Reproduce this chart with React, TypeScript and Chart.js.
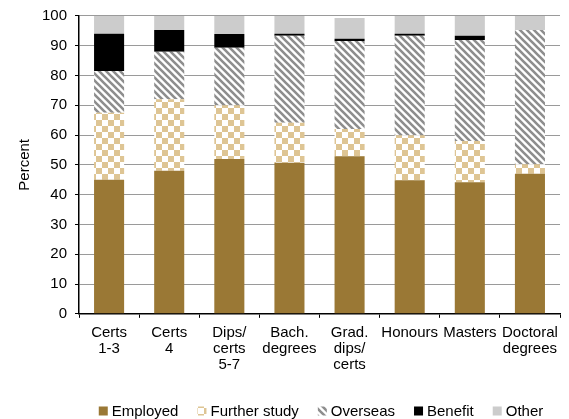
import React, { useEffect, useRef } from "react";
import { Chart, registerables } from "chart.js";

Chart.register(...registerables);

const categories: string[][] = [
  ["Certs", "1-3"],
  ["Certs", "4"],
  ["Dips/", "certs", "5-7"],
  ["Bach.", "degrees"],
  ["Grad.", "dips/", "certs"],
  ["Honours"],
  ["Masters"],
  ["Doctoral", "degrees"],
];

const employed = [45, 48, 52, 50.7, 52.9, 44.8, 44.2, 47];
const furtherStudy = [22.5, 24, 18, 13.4, 9.1, 15.1, 13.8, 3.2];
const overseas = [14, 16, 19.3, 29.2, 29.6, 33.4, 33.9, 45.1];
const benefit = [12.5, 7.3, 4.6, 0.7, 0.7, 0.7, 1.4, 0];
const other = [6, 4.7, 6.1, 6, 7, 6, 6.7, 4.7];

const yTicks = [0, 10, 20, 30, 40, 50, 60, 70, 80, 90, 100];

const FONT_FAMILY = "'Liberation Sans', Arial, sans-serif";

function makeChecker(): CanvasPattern | string {
  const c = document.createElement("canvas");
  c.width = 12;
  c.height = 12;
  const g = c.getContext("2d");
  if (!g) return "#dcc494";
  g.fillStyle = "#ffffff";
  g.fillRect(0, 0, 12, 12);
  g.fillStyle = "#dec594";
  g.fillRect(0, 0, 6, 6);
  g.fillRect(6, 6, 6, 6);
  const p = g.createPattern(c, "repeat");
  return p || "#dcc494";
}

function makeStripes(): CanvasPattern | string {
  const s = 7;
  const c = document.createElement("canvas");
  c.width = s;
  c.height = s;
  const g = c.getContext("2d");
  if (!g) return "#999";
  g.fillStyle = "#ffffff";
  g.fillRect(0, 0, s, s);
  g.strokeStyle = "#8e8e8e";
  g.lineWidth = 2.6;
  g.beginPath();
  g.moveTo(-2, -2);
  g.lineTo(s + 2, s + 2);
  g.moveTo(-2 - s, -2);
  g.lineTo(2, s + 2);
  g.moveTo(s - 2, -2);
  g.lineTo(2 * s + 2, s + 2);
  g.stroke();
  const p = g.createPattern(c, "repeat");
  return p || "#999";
}

const bottomLegend = {
  id: "bottomLegend",
  afterDraw(chart: any) {
    const ctx = chart.ctx as CanvasRenderingContext2D;
    const items = chart.data.datasets.map((d: any) => ({ label: d.label, fill: d.backgroundColor }));
    ctx.save();
    ctx.font = `15px ${FONT_FAMILY}`;
    const box = 9;
    const gapText = 4;
    const gapItem = 19;
    const widths = items.map((it: any) => box + gapText + ctx.measureText(it.label).width);
    const total = widths.reduce((a: number, b: number) => a + b, 0) + gapItem * (items.length - 1);
    const cx = 321;
    const cy = 411;
    let x = cx - total / 2;
    items.forEach((it: any, i: number) => {
      ctx.fillStyle = it.fill;
      ctx.fillRect(x, cy - box / 2, box, box);
      ctx.fillStyle = "#000";
      ctx.textBaseline = "middle";
      ctx.textAlign = "left";
      ctx.fillText(it.label, x + box + gapText, cy + 1);
      x += widths[i] + gapItem;
    });
    ctx.restore();
  },
};

export default function App() {
  const ref = useRef<HTMLCanvasElement | null>(null);
  useEffect(() => {
    if (!ref.current) return;
    const checker = makeChecker();
    const stripes = makeStripes();
    const font = { family: FONT_FAMILY, size: 15 };
    const yfont = { family: FONT_FAMILY, size: 15, lineHeight: 1.05 };
    const xfont = { family: FONT_FAMILY, size: 15, lineHeight: 1.07 };
    const chart = new Chart(ref.current, {
      type: "bar",
      data: {
        labels: categories,
        datasets: [
          { label: "Employed", data: employed, backgroundColor: "#9a7835" },
          { label: "Further study", data: furtherStudy, backgroundColor: checker as any },
          { label: "Overseas", data: overseas, backgroundColor: stripes as any },
          { label: "Benefit", data: benefit, backgroundColor: "#000000" },
          { label: "Other", data: other, backgroundColor: "#cccccc" },
        ],
      },
      options: {
        animation: false,
        responsive: true,
        maintainAspectRatio: false,
        datasets: { bar: { categoryPercentage: 1, barPercentage: 0.5, borderWidth: 0 } },
        layout: { padding: { top: 2, right: 9, left: 3, bottom: 39 } },
        plugins: {
          tooltip: { enabled: false },
          legend: { display: false },
        },
        scales: {
          x: {
            stacked: true,
            grid: {
              drawOnChartArea: false,
              drawTicks: true,
              tickLength: 4,
              tickColor: "#000",
              offset: true,
            },
            border: { color: "#000", width: 1.5 },
            ticks: { color: "#000", font: xfont, maxRotation: 0, autoSkip: false, padding: 7 },
          },
          y: {
            stacked: true,
            min: 0,
            max: 100,
            afterBuildTicks: (axis: any) => {
              axis.ticks = yTicks.map((v) => ({ value: v }));
            },
            grid: {
              color: "#9a9a9a",
              lineWidth: 1,
              borderDash: [2, 2],
              tickBorderDash: [],
              tickColor: "#000",
              tickLength: 4,
              drawTicks: true,
            },
            border: { color: "#000", width: 1.5 },
            ticks: { color: "#000", font: yfont, padding: 8 },
            title: { display: true, text: "Percent", color: "#000", font, padding: { top: 13, bottom: 0 } },
          },
        },
      },
      plugins: [bottomLegend],
    } as any);
    return () => chart.destroy();
  }, []);
  return (
    <div style={{ position: "absolute", left: 0, top: 0, width: 569, height: 419, background: "#fff" }}>
      <canvas ref={ref} />
    </div>
  );
}
